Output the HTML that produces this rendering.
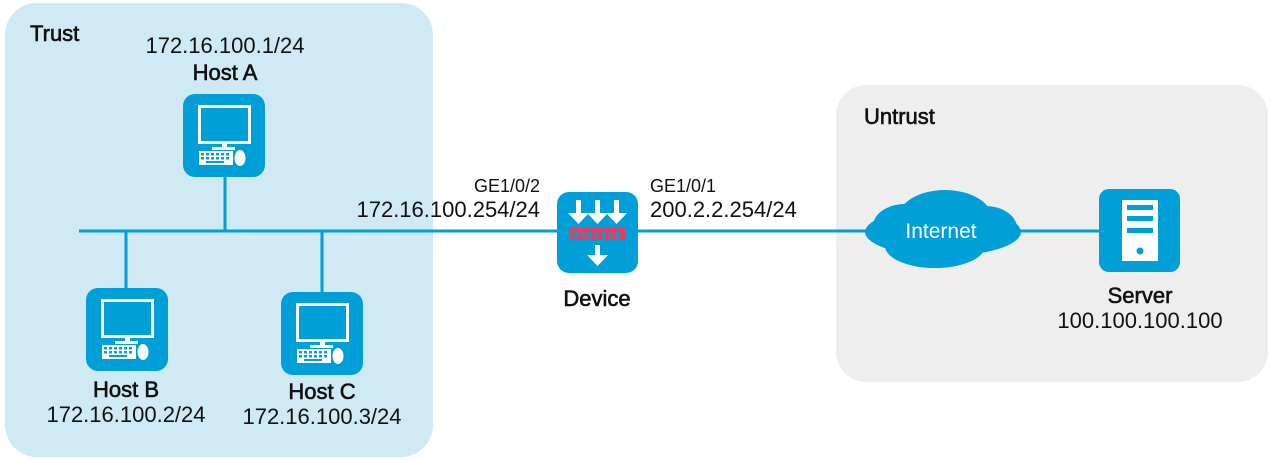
<!DOCTYPE html>
<html><head><meta charset="utf-8"><style>
html,body{margin:0;padding:0;background:#fff;}
svg{display:block;font-family:"Liberation Sans",Arial,sans-serif;}
</style></head><body>
<svg width="1272" height="462" viewBox="0 0 1272 462" xmlns="http://www.w3.org/2000/svg">
<defs>
<g id="pc">
<rect x="0" y="0" width="82" height="83" rx="12" fill="#009fd8"/>
<rect x="16.5" y="12.5" width="50" height="36" fill="none" stroke="#fff" stroke-width="3"/>
<rect x="39" y="50" width="5" height="3" fill="#fff"/>
<rect x="29" y="53" width="23" height="3" fill="#fff"/>
<rect x="16" y="57" width="34" height="14" fill="#fff"/>
<g fill="#009fd8">
<rect x="18" y="59" width="3" height="2.5"/><rect x="23" y="59" width="3" height="2.5"/><rect x="28" y="59" width="3" height="2.5"/><rect x="33" y="59" width="3" height="2.5"/><rect x="38" y="59" width="3" height="2.5"/><rect x="43" y="59" width="3" height="2.5"/>
<rect x="18" y="63" width="3" height="2.5"/><rect x="23" y="63" width="3" height="2.5"/><rect x="28" y="63" width="3" height="2.5"/><rect x="33" y="63" width="3" height="2.5"/><rect x="38" y="63" width="3" height="2.5"/><rect x="43" y="63" width="3" height="2.5"/>
<rect x="23" y="67" width="18" height="2"/>
</g>
<ellipse cx="57" cy="64" rx="5.5" ry="8" fill="#fff"/>
</g>
</defs>
<rect x="5" y="3" width="428" height="454" rx="32" fill="#cfe9f5"/>
<rect x="836" y="85" width="432" height="297" rx="30" fill="#eeeeee"/>
<g stroke="#009fd8" stroke-width="3" fill="none">
<line x1="79" y1="231" x2="560" y2="231"/>
<line x1="636" y1="231" x2="870" y2="231"/>
<line x1="1015" y1="231" x2="1100" y2="231"/>
<line x1="225" y1="176" x2="225" y2="231"/>
<line x1="126" y1="231" x2="126" y2="290"/>
<line x1="322" y1="231" x2="322" y2="293"/>
</g>
<use href="#pc" x="183" y="94"/>
<use href="#pc" x="86" y="288"/>
<use href="#pc" x="281" y="292"/>
<rect x="557" y="192" width="81" height="81" rx="12" fill="#009fd8"/>
<g fill="#fff">
<rect x="576" y="200" width="5" height="15"/><polygon points="568,213 589,213 578.5,224"/>
<rect x="595" y="200" width="5" height="15"/><polygon points="587,213 608,213 597.5,224"/>
<rect x="614" y="200" width="5" height="15"/><polygon points="606,213 627,213 616.5,224"/>
<rect x="595" y="245" width="5" height="12"/><polygon points="587,255 608,255 597.5,266"/>
</g>
<rect x="570" y="228" width="56" height="12" fill="#e0405f"/>
<g fill="#009fd8"><rect x="574" y="231" width="3" height="6"/><rect x="581" y="231" width="3" height="6"/><rect x="588" y="231" width="3" height="6"/><rect x="595" y="231" width="3" height="6"/><rect x="602" y="231" width="3" height="6"/><rect x="609" y="231" width="3" height="6"/><rect x="616" y="231" width="3" height="6"/></g>
<g fill="#009fd8">
<ellipse cx="943" cy="232" rx="78" ry="24"/>
<ellipse cx="945" cy="220" rx="48" ry="30"/>
<ellipse cx="905" cy="226" rx="32" ry="22"/>
<ellipse cx="985" cy="228" rx="32" ry="22"/>
<ellipse cx="935" cy="246" rx="50" ry="22"/>
</g>
<text x="941" y="238" font-size="21" fill="#fff" text-anchor="middle">Internet</text>
<rect x="1099" y="189" width="81" height="83" rx="10" fill="#009fd8"/>
<rect x="1122" y="200" width="36" height="61" fill="#fff"/>
<g fill="#009fd8"><rect x="1127" y="205" width="26" height="5"/><rect x="1127" y="216" width="26" height="5"/><rect x="1127" y="228" width="26" height="5"/><circle cx="1140" cy="251" r="3.5"/></g>
<g font-size="22" fill="#111">
<text x="225" y="53" text-anchor="middle">172.16.100.1/24</text>
<text x="126" y="422" text-anchor="middle">172.16.100.2/24</text>
<text x="322" y="424" text-anchor="middle">172.16.100.3/24</text>
<text x="540" y="217" text-anchor="end">172.16.100.254/24</text>
<text x="650" y="217">200.2.2.254/24</text>
<text x="1140" y="328" text-anchor="middle">100.100.100.100</text>
</g>
<g font-size="22" fill="#111" stroke="#111" stroke-width="0.6">
<text x="30" y="41">Trust</text>
<text x="225" y="80" text-anchor="middle">Host A</text>
<text x="126" y="397" text-anchor="middle">Host B</text>
<text x="322" y="399" text-anchor="middle">Host C</text>
<text x="864" y="124">Untrust</text>
<text x="1140" y="303" text-anchor="middle">Server</text>
<text x="597" y="306" text-anchor="middle">Device</text>
</g>
<g font-size="18" fill="#111">
<text x="540" y="192" text-anchor="end">GE1/0/2</text>
<text x="650" y="192">GE1/0/1</text>
</g>
</svg>
</body></html>
